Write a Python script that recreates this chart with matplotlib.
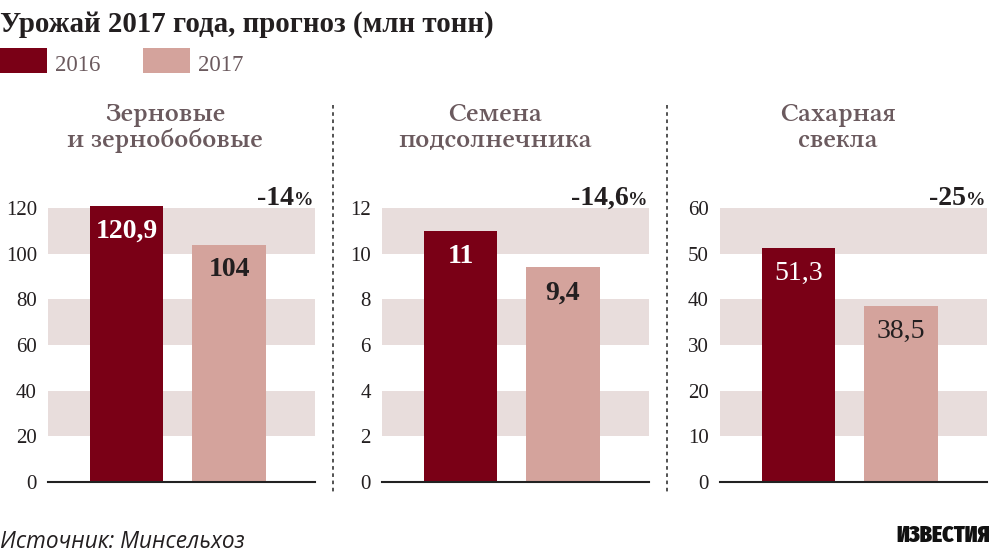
import matplotlib
matplotlib.use("Agg")
import matplotlib.pyplot as plt
from matplotlib import font_manager as fm
from matplotlib.patches import Rectangle
from matplotlib.lines import Line2D

# ---------------- data ----------------
title = "Урожай 2017 года, прогноз (млн тонн)"
series_names = ["2016", "2017"]
panel_titles = ["Зерновые\nи зернобобовые", "Семена\nподсолнечника", "Сахарная\nсвекла"]
values_2016 = [120.9, 11, 51.3]
values_2017 = [104, 9.4, 38.5]
value_labels_2016 = ["120,9", "11", "51,3"]
value_labels_2017 = ["104", "9,4", "38,5"]
changes = ["-14", "-14,6", "-25"]
y_max = [120, 12, 60]
y_step = [20, 2, 10]
source = "Источник: Минсельхоз"
logo = "ИЗВЕСТИЯ"

# ---------------- style ----------------
DARK = "#7a0016"
LIGHT = "#d4a39c"
BAND = "#e8dddc"
TXT = "#231f20"
SUB = "#6b5a5e"
SERIF = "Liberation Serif"


def has_font(fam, **kw):
    try:
        fm.findfont(fm.FontProperties(family=fam, **kw), fallback_to_default=False)
        return True
    except Exception:
        return False


SUBFONT, SUBW, SUBSIZE = SERIF, "normal", 20.5
if has_font("Libertinus Serif", weight=600):
    SUBFONT, SUBW, SUBSIZE = "Libertinus Serif", 600, 19.5

W, H = 1000, 558
fig = plt.figure(figsize=(W / 100, H / 100), dpi=100)
fig.patch.set_facecolor("white")


def fx(x):
    return x / W


def fy(y):
    return 1 - y / H


# title
fig.text(fx(0), fy(32), title, family=SERIF, weight="bold", size=20.8,
         color=TXT, ha="left", va="baseline")

# legend
for i, (name, col) in enumerate(zip(series_names, [DARK, LIGHT])):
    x0 = 0 + i * 143
    fig.patches.append(Rectangle((fx(x0), fy(73)), 47 / W, 25 / H,
                                 transform=fig.transFigure, color=col, lw=0))
    fig.text(fx(x0 + 55), fy(71), name, family=SERIF, size=16.5, color=SUB,
             ha="left", va="baseline")

panel_left = [48, 382, 720]
panel_w = 267
base_y = 482
top_y = 208
sub_cx = [165, 495, 838]
sep_x = [333, 667]

for k in range(3):
    L = panel_left[k]
    ax = fig.add_axes([fx(L), (H - base_y) / H, panel_w / W, (base_y - top_y) / H])
    ax.set_xlim(-0.766, 1.839)
    ax.set_ylim(0, y_max[k])
    s = y_step[k]
    for j in (1, 3, 5):
        ax.axhspan(j * s, (j + 1) * s, color=BAND, lw=0, zorder=0)
    ax.bar([0, 1], [values_2016[k], values_2017[k]], width=0.72,
           color=[DARK, LIGHT], zorder=2, clip_on=False)
    for sp in ["left", "right", "top"]:
        ax.spines[sp].set_visible(False)
    ax.spines["bottom"].set_color("#222222")
    ax.spines["bottom"].set_linewidth(1.5)
    ax.spines["bottom"].set_zorder(3)
    ax.set_xticks([])
    ticks = [i * s for i in range(7)]
    ax.set_yticks(ticks)
    ax.set_yticklabels([str(t) for t in ticks], family=SERIF, size=15, color=TXT)
    ax.tick_params(axis="y", length=0, pad=8)
    ax.set_facecolor("none")
    wt = "bold" if k < 2 else "normal"
    for xi, v, lab, c in [(0, values_2016[k], value_labels_2016[k], "white"),
                          (1, values_2017[k], value_labels_2017[k], TXT)]:
        ax.annotate(lab, (xi, v), xytext=(0, -23), textcoords="offset points",
                    ha="center", va="baseline", family=SERIF, weight=wt,
                    size=20, color=c, zorder=4, annotation_clip=False)
    # panel subtitle
    l1, l2 = panel_titles[k].split("\n")
    fig.text(fx(sub_cx[k]), fy(121), l1, family=SUBFONT, weight=SUBW,
             size=SUBSIZE, color=SUB, ha="center", va="baseline")
    fig.text(fx(sub_cx[k]), fy(147), l2, family=SUBFONT, weight=SUBW,
             size=SUBSIZE, color=SUB, ha="center", va="baseline")

# percent labels
renderer = fig.canvas.get_renderer()
for k in range(3):
    R = panel_left[k] + panel_w - 1
    pct = fig.text(fx(R), fy(205), "%", family=SERIF, weight="bold", size=14,
                   color=TXT, ha="right", va="baseline")
    bb = pct.get_window_extent(renderer)
    fig.text(bb.x0 / W, fy(205), changes[k], family=SERIF, weight="bold",
             size=20, color=TXT, ha="right", va="baseline")

# separators
for x in sep_x:
    fig.lines.append(Line2D([fx(x), fx(x)], [fy(105), fy(495)],
                            transform=fig.transFigure, color="#444444",
                            lw=1.3, linestyle=(0, (2, 2))))

# source
fig.text(fx(0), fy(548), source, family="Open Sans", style="italic", size=16.3,
         color=TXT, ha="left", va="baseline")

# logo
logo_family, logo_size, logo_w = "DejaVu Sans", 14, "bold"
for fam, sz, w in [("Fira Sans Extra Condensed", 17, 900),
                   ("Roboto Condensed", 16, "bold"), ("Oswald", 16, "bold")]:
    if has_font(fam, weight=w):
        logo_family, logo_size, logo_w = fam, sz, w
        break
fig.text(fx(990), fy(542), logo, family=logo_family, weight=logo_w,
         size=logo_size, color="#111111", ha="right", va="baseline")

fig.savefig("out.png", dpi=100, facecolor="white")
